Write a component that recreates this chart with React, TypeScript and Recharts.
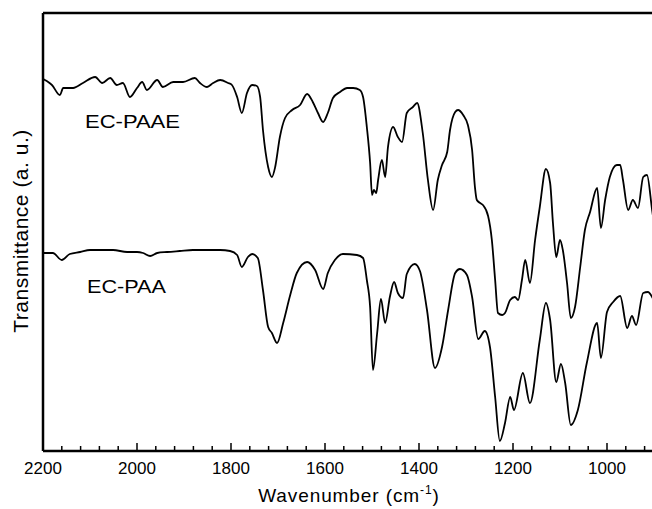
import React from 'react';
import { LineChart, Line, XAxis, YAxis, Customized } from 'recharts';

// EC-PAAE (upper trace): wavenumber (cm-1) and transmittance (a. u.)
const paaeWavenumber = [
  2200, 2196, 2189, 2181, 2164, 2157, 2136, 2115, 2089, 2074,
  2057, 2043, 2030, 2015, 2000, 1989, 1979, 1957, 1945, 1923,
  1902, 1877, 1866, 1851, 1838, 1823, 1806, 1798, 1787, 1777,
  1766, 1755, 1745, 1738, 1732, 1721, 1713, 1706, 1696, 1685,
  1670, 1653, 1638, 1626, 1615, 1604, 1594, 1583, 1568, 1553,
  1540, 1526, 1519, 1511, 1504, 1500, 1496, 1491, 1487, 1479,
  1472, 1466, 1455, 1445, 1436, 1426, 1413, 1404, 1392, 1381,
  1370, 1360, 1351, 1340, 1334, 1323, 1317, 1306, 1296, 1287,
  1281, 1277, 1270, 1264, 1253, 1245, 1238, 1232, 1223, 1217,
  1206, 1196, 1189, 1181, 1174, 1164, 1153, 1143, 1130, 1121,
  1115, 1108, 1100, 1094, 1085, 1077, 1068, 1057, 1047, 1036,
  1021, 1013, 1004, 994, 979, 972, 966, 955, 945, 934,
  923, 915, 904, 900,
];
const paaeTransmittance = [
  372, 371, 369, 366, 356, 363, 363, 368, 374, 368,
  373, 366, 368, 354, 363, 369, 361, 371, 364, 369,
  369, 373, 368, 364, 368, 371, 368, 366, 354, 338,
  358, 366, 365, 354, 321, 284, 274, 284, 314, 333,
  341, 346, 357, 349, 338, 329, 338, 353, 359, 363,
  363, 361, 354, 324, 288, 256, 261, 258, 271, 291,
  274, 304, 324, 314, 309, 338, 344, 348, 318, 271,
  241, 271, 286, 299, 321, 339, 341, 336, 326, 301,
  264, 251, 248, 246, 235, 211, 171, 138, 136, 138,
  151, 154, 151, 171, 191, 168, 211, 244, 282, 268,
  228, 194, 211, 201, 168, 133, 144, 184, 221, 239,
  263, 223, 251, 274, 286, 286, 271, 241, 251, 243,
  274, 276, 241, 228,
];

// EC-PAA (lower trace)
const paaWavenumber = [
  2200, 2179, 2160, 2143, 2121, 2100, 2079, 2051, 2021, 2000,
  1987, 1972, 1957, 1936, 1909, 1881, 1851, 1823, 1802, 1787,
  1777, 1764, 1755, 1743, 1732, 1721, 1713, 1702, 1689, 1674,
  1660, 1638, 1621, 1604, 1594, 1579, 1562, 1532, 1519, 1511,
  1504, 1498, 1489, 1481, 1472, 1462, 1453, 1445, 1434, 1426,
  1409, 1398, 1383, 1366, 1351, 1338, 1323, 1313, 1298, 1287,
  1274, 1260, 1249, 1238, 1228, 1217, 1206, 1198, 1179, 1164,
  1143, 1130, 1121, 1108, 1098, 1089, 1077, 1062, 1043, 1021,
  1013, 1000, 987, 972, 957, 947, 938, 923, 913, 904,
  900,
];
const paaTransmittance = [
  198, 198, 191, 197, 199, 201, 201, 201, 199, 199,
  198, 195, 198, 199, 200, 201, 201, 201, 200, 196,
  184, 194, 197, 193, 161, 124, 118, 108, 128, 156,
  178, 189, 181, 162, 178, 191, 197, 196, 193, 171,
  144, 81, 118, 152, 128, 154, 169, 158, 153, 177,
  187, 180, 141, 83, 104, 141, 178, 182, 176, 154,
  112, 120, 104, 54, 10, 28, 54, 41, 78, 48,
  111, 148, 131, 69, 87, 68, 26, 41, 88, 128,
  93, 139, 149, 155, 123, 135, 126, 158, 159, 154,
  150,
];

const xMajorTicks = [2200, 2000, 1800, 1600, 1400, 1200, 1000];
const xAllTicks: number[] = [];
for (let t = 2200; t >= 900; t -= 40) xAllTicks.push(t);

const paaeData = paaeWavenumber.map((w, i) => ({ w, t: paaeTransmittance[i] }));
const paaData = paaWavenumber.map((w, i) => ({ w, t: paaTransmittance[i] }));

const FONT = '"Liberation Sans", Arial, Helvetica, sans-serif';

const AxisTick = (props: any) => {
  const { x, y, payload } = props;
  const major = xMajorTicks.includes(payload.value);
  return (
    <g>
      <line x1={x} y1={y} x2={x} y2={y - (major ? 8 : 5)} stroke="#000" strokeWidth={1.5} />
      {major && (
        <text x={x} y={y + 23} textAnchor="middle" fontSize={17} fontFamily={FONT} fill="#000">
          {payload.value}
        </text>
      )}
    </g>
  );
};

const Labels = () => (
  <g fontFamily={FONT} fill="#000">
    <text x={85} y={128} fontSize={18.5} textLength={95} lengthAdjust="spacingAndGlyphs">EC-PAAE</text>
    <text x={87} y={293} fontSize={18.5} textLength={79} lengthAdjust="spacingAndGlyphs">EC-PAA</text>
    <text x={349} y={502} fontSize={19} textAnchor="middle" letterSpacing={0.9}>
      Wavenumber (cm
      <tspan dy={-8} fontSize={12}>-1</tspan>
      <tspan dy={8}>)</tspan>
    </text>
    <text
      x={28}
      y={231}
      fontSize={21}
      textAnchor="middle"
      letterSpacing={0.5}
      transform="rotate(-90, 28, 231)"
    >
      Transmittance (a. u.)
    </text>
  </g>
);

export default function App() {
  return (
    <div style={{ position: 'absolute', left: 0, top: 0, width: 652, height: 509, overflow: 'hidden', background: '#fff' }}>
      <LineChart width={660} height={509} margin={{ top: 12, right: 5, bottom: 57, left: 42 }}>
        <XAxis
          dataKey="w"
          type="number"
          domain={[900, 2200]}
          reversed
          ticks={xAllTicks}
          interval={0}
          tick={<AxisTick />}
          tickLine={false}
          tickSize={0}
          tickMargin={0}
          height={1}
          axisLine={{ stroke: '#000', strokeWidth: 2.5 }}
          allowDataOverflow
        />
        <XAxis
          xAxisId="top"
          orientation="top"
          type="number"
          domain={[900, 2200]}
          reversed
          tick={false}
          tickLine={false}
          height={1}
          axisLine={{ stroke: '#000', strokeWidth: 2.5 }}
        />
        <YAxis
          type="number"
          domain={[0, 438]}
          width={1}
          tick={false}
          tickLine={false}
          axisLine={{ stroke: '#000', strokeWidth: 2.5 }}
          allowDataOverflow
        />
        <YAxis
          yAxisId="right"
          orientation="right"
          type="number"
          domain={[0, 438]}
          width={1}
          tick={false}
          tickLine={false}
          axisLine={{ stroke: '#000', strokeWidth: 2.5 }}
        />
        <Line
          data={paaeData}
          dataKey="t"
          type="monotone"
          dot={false}
          stroke="#000"
          strokeWidth={1.8}
          isAnimationActive={false}
        />
        <Line
          data={paaData}
          dataKey="t"
          type="monotone"
          dot={false}
          stroke="#000"
          strokeWidth={1.8}
          isAnimationActive={false}
        />
        <Customized component={Labels} />
      </LineChart>
    </div>
  );
}
